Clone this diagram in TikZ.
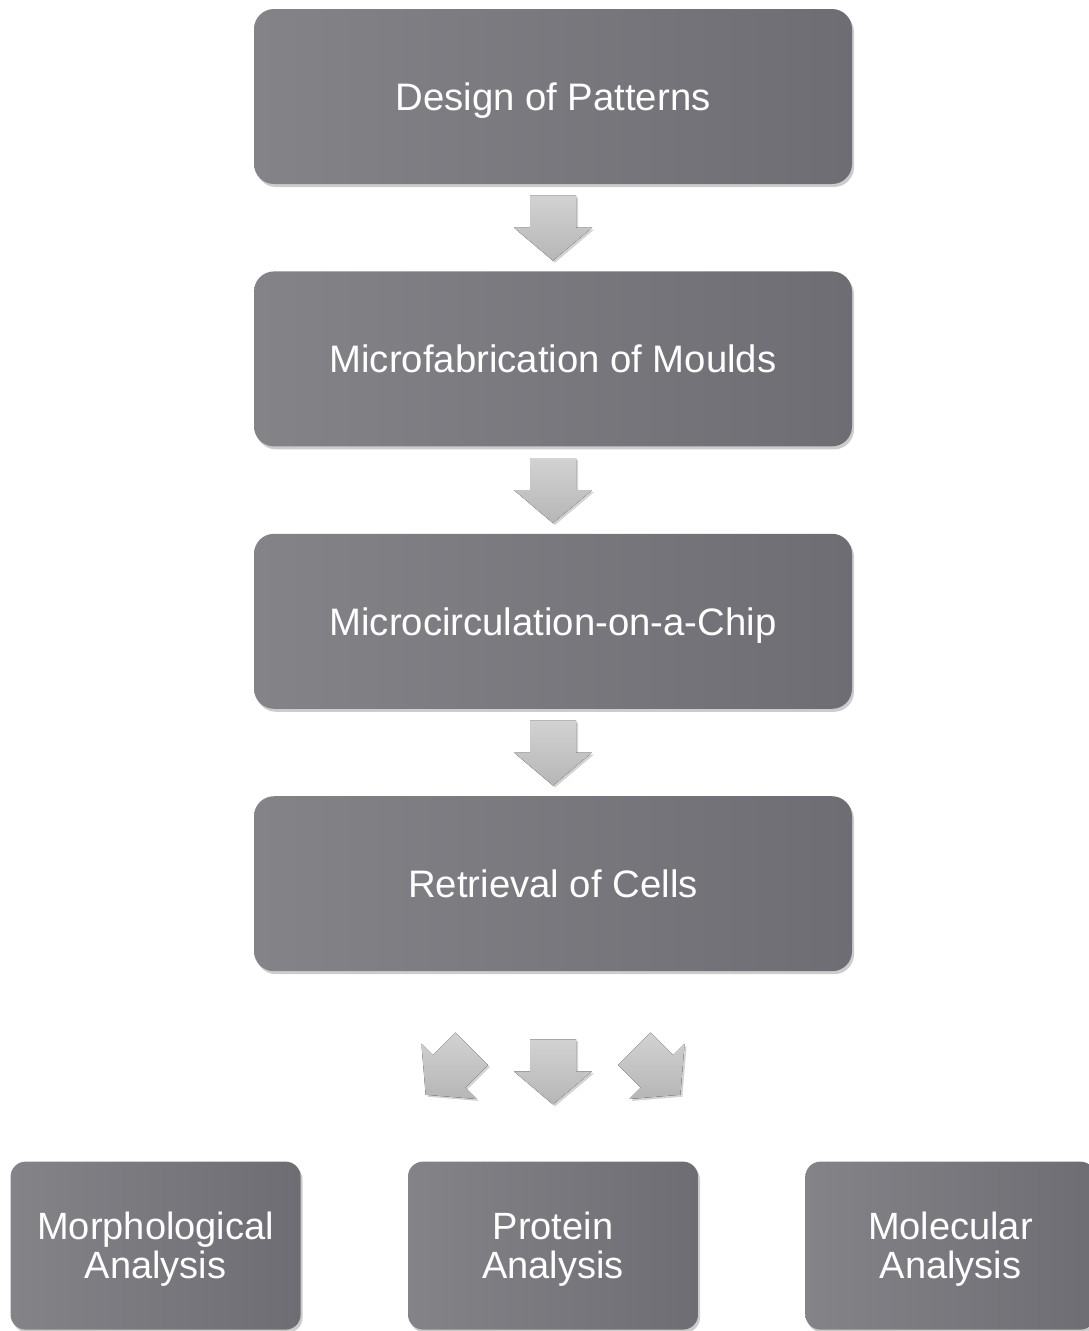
\documentclass[tikz,border=0pt]{standalone}
\usepackage{fontspec}
\setmainfont{Liberation Sans}
\usetikzlibrary{positioning,calc,shadows}
\definecolor{boxlight}{HTML}{848388}
\definecolor{boxdark}{HTML}{6E6D73}
\definecolor{arrowlight}{HTML}{D2D2D2}
\definecolor{arrowdark}{HTML}{B6B6B6}
\tikzset{
  stepbox/.style={rectangle,rounded corners=20pt,left color=boxlight,right color=boxdark,
    text=white,minimum width=598pt,minimum height=175pt,font=\fontsize{38.3}{44}\selectfont,
    text depth=0pt,drop shadow={shadow xshift=2pt,shadow yshift=-3pt,opacity=0.4}},
  endbox/.style={stepbox,rounded corners=15pt,minimum width=290pt,minimum height=168pt,
    align=center,font=\fontsize{38}{39}\selectfont},
  pics/downarrow/.style={code={
    \fill[top color=arrowlight,bottom color=arrowdark,
      drop shadow={shadow xshift=2pt,shadow yshift=-2pt,opacity=0.35}]
      (-23,32) -- (23,32) -- (23,0) -- (39,0) -- (0,-33) -- (-39,0) -- (-23,0) -- cycle;}}
}
\begin{document}
\begin{tikzpicture}[x=1pt,y=1pt]
\useasboundingbox (0,0) rectangle (1088,-1331);
\node[stepbox] (design) at (553,-96.5) {Design of Patterns};
\node[stepbox,below=87pt of design] (moulds) {Microfabrication of Moulds};
\node[stepbox,below=87pt of moulds] (chip) {Microcirculation-on-a-Chip};
\node[stepbox,below=87pt of chip] (retrieval) {Retrieval of Cells};
\node[endbox,below=190pt of retrieval] (protein) {Protein\\Analysis};
\node[endbox,left=107pt of protein] (morpho) {Morphological\\Analysis};
\node[endbox,right=107pt of protein] (molecular) {Molecular\\Analysis};
% arrows between the steps
\foreach \a/\b in {design/moulds,moulds/chip,chip/retrieval}
  \pic at ($(\a.south)!0.5!(\b.north)$) {downarrow};
% fan out to the analyses
\coordinate (fan) at ($(retrieval.south)+(0,-100)$);
\pic at (fan) {downarrow};
\pic[rotate=-45] at ($(fan)+(-104,0)$) {downarrow};
\pic[rotate=45] at ($(fan)+(104,0)$) {downarrow};
\end{tikzpicture}
\end{document}
